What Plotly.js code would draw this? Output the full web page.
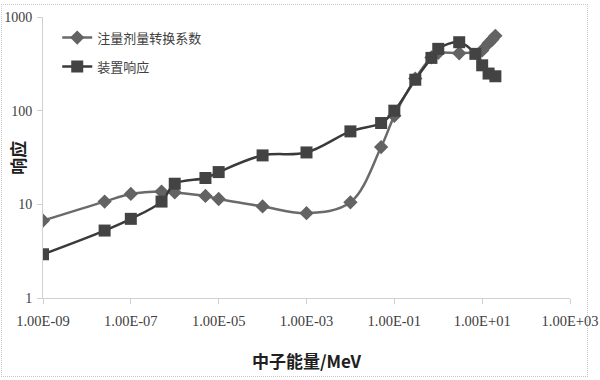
<!DOCTYPE html>
<html>
<head>
<meta charset="utf-8">
<script src="https://cdn.plot.ly/plotly-3.0.1.min.js"></script>
<style>
  html, body { margin: 0; padding: 0; background: #ffffff; }
  #frame { position: absolute; left: 1px; top: 4px; width: 587px; height: 373px; border: 1px dotted #c8c8c8; box-sizing: border-box; }
  #chart { position: absolute; left: 0; top: 0; width: 600px; height: 380px; }
</style>
</head>
<body>
<div id="frame"></div>
<div id="chart"></div>
<script>
// Series 1: 注量剂量转换系数 (diamonds)
const energyDose = [1e-9, 2.53e-8, 1e-7, 5e-7, 1e-6, 5e-6, 1e-5, 1e-4, 1e-3, 1e-2, 5e-2, 0.1, 0.3, 0.7, 1, 3, 10, 14, 17, 20];
const doseCoef   = [6.7, 10.7, 12.9, 13.7, 13.4, 12.3, 11.4, 9.5, 8.05, 10.5, 40.9, 88, 220, 370, 414, 410, 440, 525, 575, 630];

// Series 2: 装置响应 (squares)
const energyResp = [1e-9, 2.53e-8, 1e-7, 5e-7, 1e-6, 5e-6, 1e-5, 1e-4, 1e-3, 1e-2, 5e-2, 0.1, 0.3, 0.7, 1, 3, 7, 10, 14, 20];
const response   = [2.93, 5.25, 7.0, 10.7, 16.6, 19.1, 22.1, 33.3, 35.8, 60.1, 73.8, 100, 214, 366, 457, 538, 404, 305, 249, 233];

const seriesNames = ['注量剂量转换系数', '装置响应'];
const xTickVals = [1e-9, 1e-7, 1e-5, 1e-3, 1e-1, 1e1, 1e3];
const xTickText = ['1.00E-09', '1.00E-07', '1.00E-05', '1.00E-03', '1.00E-01', '1.00E+01', '1.00E+03'];
const yTickVals = [1, 10, 100, 1000];
const yTickText = ['1', '10', '100', '1000'];

const traces = [
  {
    x: energyDose, y: doseCoef, name: seriesNames[0], type: 'scatter', mode: 'lines+markers',
    legendgroup: 'a',
    line: { color: '#6a6a6a', width: 2.5, shape: 'spline', smoothing: 1 },
    marker: { symbol: 'diamond', size: 11, color: '#636363' }
  },
  {
    x: energyResp, y: response, name: seriesNames[1], type: 'scatter', mode: 'lines+markers',
    legendgroup: 'b',
    line: { color: '#3a3a3a', width: 2.5, shape: 'spline', smoothing: 1 },
    marker: { symbol: 'square', size: 12, color: '#434343' }
  }
];

const layout = {
  width: 600, height: 380,
  margin: { l: 43, r: 30, t: 17, b: 82 },
  paper_bgcolor: 'rgba(0,0,0,0)',
  plot_bgcolor: 'rgba(0,0,0,0)',
  showlegend: true,
  legend: {
    x: 0.027, y: 0.98, xanchor: 'left', yanchor: 'top',
    bgcolor: 'rgba(0,0,0,0)',
    traceorder: 'grouped', tracegroupgap: 9,
    font: { family: 'Noto Sans CJK SC, sans-serif', size: 13, color: '#404040' }
  },
  xaxis: {
    type: 'log', range: [-9, 3],
    tickvals: xTickVals, ticktext: xTickText,
    showgrid: false, zeroline: false,
    showline: true, linecolor: '#d0d0d0', linewidth: 1,
    ticks: 'outside', ticklen: 5, tickcolor: '#d0d0d0',
    ticklabelstandoff: 5,
    tickfont: { family: 'Liberation Serif, serif', size: 14.5, color: '#404040' },
    title: { text: '中子能量/MeV', standoff: 27,
             font: { family: 'Noto Sans CJK SC, sans-serif', size: 17, color: '#202020', weight: 'bold' } }
  },
  yaxis: {
    type: 'log', range: [0, 3],
    tickvals: yTickVals, ticktext: yTickText,
    showgrid: false, zeroline: false,
    showline: true, linecolor: '#d0d0d0', linewidth: 1,
    ticks: 'outside', ticklen: 5, tickcolor: '#d0d0d0',
    ticklabelstandoff: 2,
    tickfont: { family: 'Liberation Serif, serif', size: 14, color: '#404040' }
  },
  annotations: [
    {
      text: '响应', xref: 'paper', yref: 'paper', x: -0.049, y: 0.5,
      xanchor: 'center', yanchor: 'middle', showarrow: false, textangle: -90,
      font: { family: 'Noto Sans CJK SC, sans-serif', size: 17, color: '#202020', weight: 'bold' }
    }
  ]
};

Plotly.newPlot('chart', traces, layout, { displayModeBar: false, staticPlot: true });
</script>
</body>
</html>
